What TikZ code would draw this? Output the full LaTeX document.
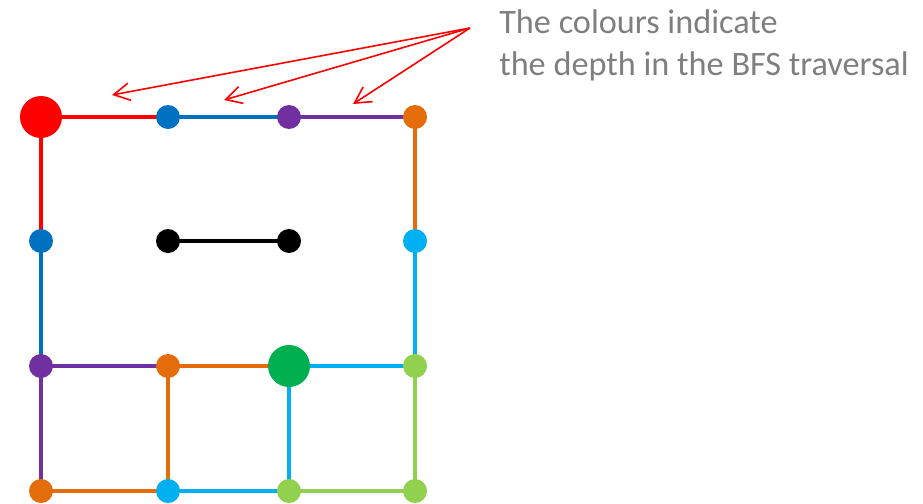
\documentclass[tikz,border=0pt]{standalone}
\usepackage{fontspec}
\setmainfont{Carlito}
\usetikzlibrary{arrows.meta}
\definecolor{cred}{HTML}{FF0000}
\definecolor{cblue}{HTML}{0070C0}
\definecolor{cpurple}{HTML}{7030A0}
\definecolor{corange}{HTML}{E46C0A}
\definecolor{ccyan}{HTML}{00B0F0}
\definecolor{clgreen}{HTML}{92D050}
\definecolor{cgreen}{HTML}{00B050}
\definecolor{cgray}{HTML}{7F7F7F}
\tikzset{
  vtx/.style={circle,inner sep=0pt,minimum size=18pt,fill=#1},
  bigvtx/.style={circle,inner sep=0pt,minimum size=31.5pt,fill=#1},
  edge/.style={line width=3pt,draw=#1},
  pointer/.style={draw=cred,line width=1.2pt,-{Straight Barb[length=12pt,width=13pt,line width=1.2pt]}}
}
\begin{document}
\begin{tikzpicture}[x=0.75pt,y=-0.75pt]
\useasboundingbox (0,0) rectangle (923,503);
% coordinates
\coordinate (a1) at (41,117);
\coordinate (a2) at (168,117);
\coordinate (a3) at (289,117);
\coordinate (a4) at (415,117);
\coordinate (b1) at (41,241);
\coordinate (b2) at (168,241);
\coordinate (b3) at (289,241);
\coordinate (b4) at (415,241);
\coordinate (c1) at (41,366);
\coordinate (c2) at (168,366);
\coordinate (c3) at (289,366);
\coordinate (c4) at (415,366);
\coordinate (d1) at (41,491);
\coordinate (d2) at (168,491);
\coordinate (d3) at (289,491);
\coordinate (d4) at (415,491);
% edges
\draw[edge=cred] (a1) -- (a2);
\draw[edge=cred] (a1) -- (b1);
\draw[edge=cblue] (a2) -- (a3);
\draw[edge=cblue] (b1) -- (c1);
\draw[edge=cpurple] (a3) -- (a4);
\draw[edge=cpurple] (c1) -- (c2);
\draw[edge=cpurple] (c1) -- (d1);
\draw[edge=corange] (a4) -- (b4);
\draw[edge=corange] (c2) -- (c3);
\draw[edge=corange] (c2) -- (d2);
\draw[edge=corange] (d1) -- (d2);
\draw[edge=ccyan] (b4) -- (c4);
\draw[edge=ccyan] (c3) -- (c4);
\draw[edge=ccyan] (c3) -- (d3);
\draw[edge=ccyan] (d2) -- (d3);
\draw[edge=clgreen] (c4) -- (d4);
\draw[edge=clgreen] (d3) -- (d4);
\draw[edge=black] (b2) -- (b3);
% vertices
\node[bigvtx=cred] (na1) at (a1) {};
\node[vtx=cblue] (na2) at (a2) {};
\node[vtx=cpurple] (na3) at (a3) {};
\node[vtx=corange] (na4) at (a4) {};
\node[vtx=cblue] (nb1) at (b1) {};
\node[vtx=black] (nb2) at (b2) {};
\node[vtx=black] (nb3) at (b3) {};
\node[vtx=ccyan] (nb4) at (b4) {};
\node[vtx=cpurple] (nc1) at (c1) {};
\node[vtx=corange] (nc2) at (c2) {};
\node[bigvtx=cgreen] (nc3) at (c3) {};
\node[vtx=clgreen] (nc4) at (c4) {};
\node[vtx=corange] (nd1) at (d1) {};
\node[vtx=ccyan] (nd2) at (d2) {};
\node[vtx=clgreen] (nd3) at (d3) {};
\node[vtx=clgreen] (nd4) at (d4) {};
% annotation
\node[anchor=base west,inner sep=0pt,text=cgray,font=\fontsize{25.7pt}{31.5pt}\selectfont,align=left] (note) at (499,75) {The colours indicate\\the depth in the BFS traversal};
\coordinate (src) at (470,28);
\coordinate (t1) at (112,95);
\coordinate (t2) at (224,100);
\coordinate (t3) at (353,104);
\draw[pointer] (src) -- (t1);
\draw[pointer] (src) -- (t2);
\draw[pointer] (src) -- (t3);
\end{tikzpicture}
\end{document}
